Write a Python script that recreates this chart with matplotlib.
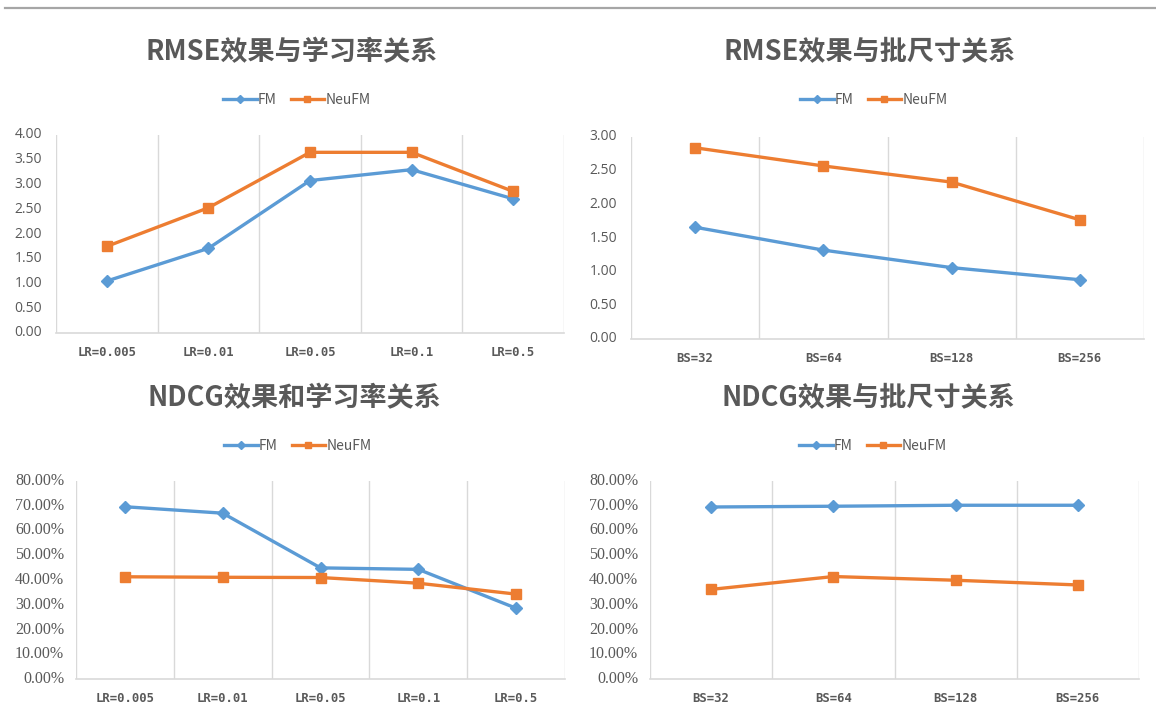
import matplotlib
matplotlib.use("Agg")
import matplotlib.pyplot as plt
from matplotlib.lines import Line2D
from matplotlib.transforms import offset_copy

plt.rcParams['font.family'] = ['Noto Sans CJK SC', 'DejaVu Sans']

lr_labels = ["LR=0.005", "LR=0.01", "LR=0.05", "LR=0.1", "LR=0.5"]
bs_labels = ["BS=32", "BS=64", "BS=128", "BS=256"]

rmse_lr_fm = [1.05, 1.71, 3.08, 3.30, 2.71]
rmse_lr_neufm = [1.75, 2.53, 3.65, 3.65, 2.86]

rmse_bs_fm = [1.66, 1.32, 1.06, 0.88]
rmse_bs_neufm = [2.84, 2.57, 2.33, 1.77]

ndcg_lr_fm = [0.696, 0.670, 0.449, 0.443, 0.286]
ndcg_lr_neufm = [0.413, 0.411, 0.410, 0.387, 0.343]

ndcg_bs_fm = [0.695, 0.698, 0.702, 0.702]
ndcg_bs_neufm = [0.362, 0.414, 0.399, 0.380]

W, H = 1156, 720
BLUE = "#5B9BD5"
ORANGE = "#ED7D31"
TEXT = "#595959"
GRID = "#D9D9D9"

fig = plt.figure(figsize=(W / 100, H / 100), dpi=100)

# thin rule along the top edge
fig.add_artist(Line2D([5 / W, 1], [1 - 8 / H, 1 - 8 / H], color="#A6A6A6", lw=1.6))


def panel(box, title, title_xy, legend_xy, labels, fm, neufm, ymax, ystep, pct):
    x0, y0, x1, y1 = box
    ax = fig.add_axes([x0 / W, 1 - y1 / H, (x1 - x0) / W, (y1 - y0) / H])
    n = len(labels)
    xs = list(range(n))
    ax.plot(xs, fm, color=BLUE, lw=2.4, marker="D", markersize=6.5, label="FM",
            solid_joinstyle="round")
    ax.plot(xs, neufm, color=ORANGE, lw=2.4, marker="s", markersize=7, label="NeuFM",
            solid_joinstyle="round")

    ax.set_xlim(-0.5, n - 0.5)
    ax.set_ylim(0, ymax)
    ax.set_xticks(xs, labels=labels, fontsize=8.8, color=TEXT,
                  family="DejaVu Sans Mono", fontweight="bold")
    ax.set_xticks([k + 0.5 for k in range(-1, n)], minor=True)
    ax.grid(which="minor", axis="x", color=GRID, lw=1.0)
    ax.tick_params(axis="x", which="both", length=0, pad=9)

    # value labels on the y axis, drawn as text at each tick value
    ticks = [i * ystep for i in range(int(round(ymax / ystep)) + 1)]
    ax.set_yticks(ticks, labels=[])
    ax.tick_params(axis="y", length=0)
    if pct:
        texts = [f"{v * 100:.2f}%" for v in ticks]
        fam, size, off = "Liberation Serif", 11.5, -12
    else:
        texts = [f"{v:.2f}" for v in ticks]
        fam, size, off = "Open Sans", 10, -14
    trans = offset_copy(ax.get_yaxis_transform(), fig=fig, x=off, y=0, units="dots")
    for v, s in zip(ticks, texts):
        ax.text(0, v, s, transform=trans, ha="right", va="center",
                family=fam, fontsize=size, color=TEXT, clip_on=False)

    for s in ["top", "left", "right"]:
        ax.spines[s].set_visible(False)
    ax.spines["bottom"].set_color(GRID)
    ax.spines["bottom"].set_linewidth(1.2)

    fig.text(title_xy[0] / W, 1 - title_xy[1] / H, title, ha="center", va="center",
             fontsize=19.5, fontweight="bold", color=TEXT)
    fig.legend(handles=ax.get_lines(), loc="center",
               bbox_to_anchor=(legend_xy[0] / W, 1 - legend_xy[1] / H),
               ncol=2, frameon=False, fontsize=10, labelcolor=TEXT,
               handlelength=2.4, handletextpad=0.1, columnspacing=1.0,
               markerscale=0.7)
    return ax


panel((56, 135, 564, 333), "RMSE效果与学习率关系", (292, 52), (297, 100),
      lr_labels, rmse_lr_fm, rmse_lr_neufm, 4.0, 0.5, False)
panel((631, 137, 1144, 339), "RMSE效果与批尺寸关系", (870, 52), (874, 100),
      bs_labels, rmse_bs_fm, rmse_bs_neufm, 3.0, 0.5, False)
panel((76, 481, 565, 679), "NDCG效果和学习率关系", (294, 398), (298, 446),
      lr_labels, ndcg_lr_fm, ndcg_lr_neufm, 0.8, 0.1, True)
panel((650, 481, 1139, 679), "NDCG效果与批尺寸关系", (868, 398), (873, 446),
      bs_labels, ndcg_bs_fm, ndcg_bs_neufm, 0.8, 0.1, True)

fig.savefig("out.png", dpi=100)
